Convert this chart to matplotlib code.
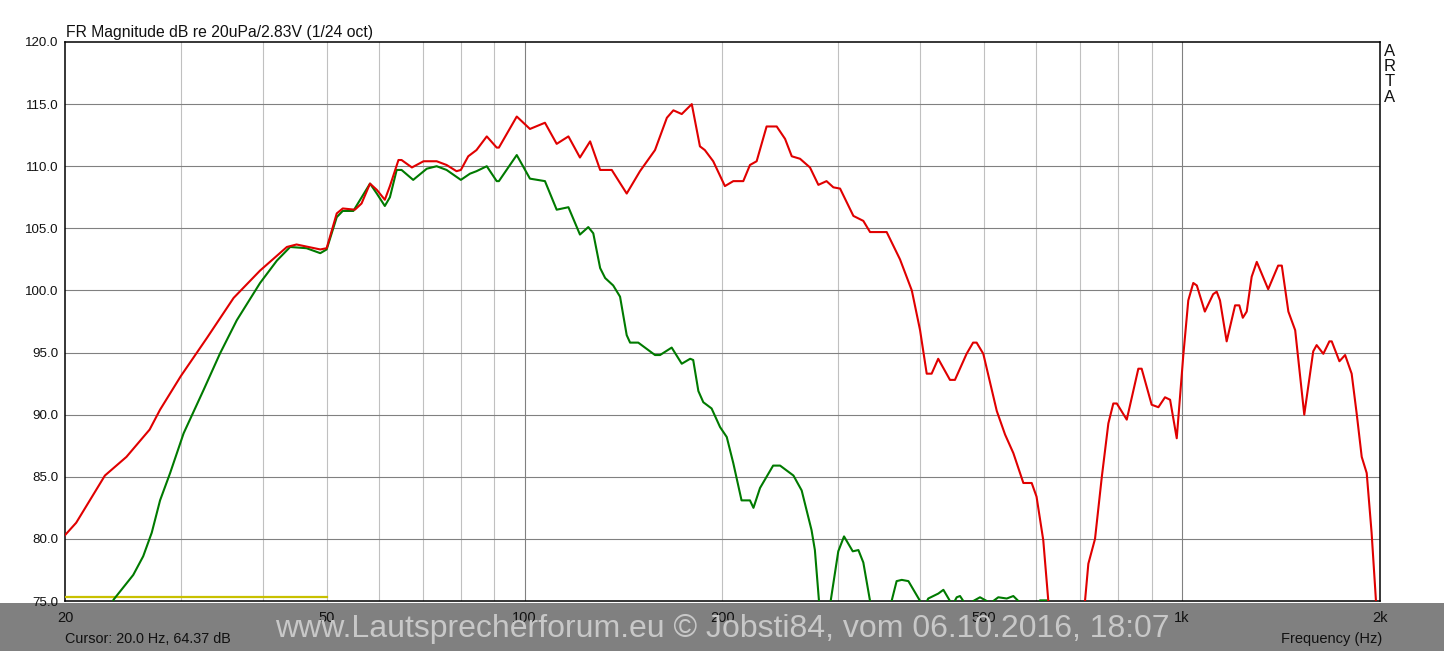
import matplotlib.pyplot as plt
from matplotlib.patches import Rectangle
from matplotlib.ticker import FixedLocator, NullFormatter

plt.rcParams['font.family'] = ['Liberation Sans', 'DejaVu Sans']

# ── data ─────────────────────────────────────────────────────────────────────
red_f = [20.0, 20.8, 23.0, 24.8, 26.9, 27.9, 30.0, 32.9, 36.1, 39.6, 43.5, 45.0,
         48.9, 50.0, 51.8, 52.9, 55.2, 56.5, 58.2, 59.6, 61.3, 62.4, 64.3, 65.0,
         67.4, 70.2, 73.5, 76.1, 78.8, 80.0, 82.1, 84.5, 87.6, 90.7, 91.4, 97.3,
         101.9, 107.4, 111.9, 116.6, 121.4, 125.8, 130.3, 135.7, 143.0, 149.8,
         157.9, 164.6, 168.4, 173.4, 179.6, 184.8, 188.0, 193.6, 201.7, 207.7,
         215.1, 220.2, 225.4, 233.4, 241.8, 249.0, 254.9, 262.4, 271.7, 279.8,
         287.9, 294.9, 301.9, 316.3, 327.5, 335.3, 355.4, 372.4, 388.1, 399.5,
         408.9, 416.0, 425.7, 443.6, 451.4, 470.2, 481.0, 487.0, 498.5, 522.6,
         538.0, 553.9, 573.6, 590.6, 600.7, 615.0, 626.0, 640.0, 700.0, 711.8,
         720.2, 737.2, 755.0, 772.5, 786.0, 795.7, 823.9, 858.0, 868.0, 899.0,
         920.4, 942.0, 958.9, 981.5, 1004, 1022, 1040, 1053, 1083, 1115, 1129,
         1142, 1169, 1204, 1222, 1237, 1254, 1276, 1299, 1352, 1400, 1418, 1451,
         1486, 1534, 1583, 1602, 1640, 1675, 1689, 1735, 1770, 1811, 1843, 1876,
         1909, 1942, 1972, 1990]
red_db = [80.3, 81.3, 85.1, 86.6, 88.8, 90.4, 93.1, 96.2, 99.4, 101.6, 103.5, 103.7,
          103.3, 103.4, 106.2, 106.6, 106.5, 107.0, 108.6, 108.1, 107.3, 108.4, 110.5, 110.5,
          109.9, 110.4, 110.4, 110.1, 109.6, 109.7, 110.8, 111.3, 112.4, 111.5, 111.5, 114.0,
          113.0, 113.5, 111.8, 112.4, 110.7, 112.0, 109.7, 109.7, 107.8, 109.6,
          111.3, 113.9, 114.5, 114.2, 115.0, 111.6, 111.3, 110.4, 108.4, 108.8,
          108.8, 110.1, 110.4, 113.2, 113.2, 112.2, 110.8, 110.6, 109.9, 108.5,
          108.8, 108.3, 108.2, 106.0, 105.6, 104.7, 104.7, 102.5, 100.0, 96.8,
          93.3, 93.3, 94.5, 92.8, 92.8, 94.9, 95.8, 95.8, 94.9, 90.3,
          88.4, 86.9, 84.5, 84.5, 83.4, 79.9, 75.0, 68.0, 68.0, 75.0,
          78.0, 80.0, 85.0, 89.3, 90.9, 90.9, 89.6, 93.7, 93.7, 90.8,
          90.6, 91.4, 91.2, 88.1, 94.7, 99.2, 100.6, 100.4, 98.3, 99.7, 99.9,
          99.2, 95.9, 98.8, 98.8, 97.8, 98.3, 101.1, 102.3, 100.1, 102.0, 102.0, 98.3,
          96.8, 90.0, 95.1, 95.6, 94.9, 95.9, 95.9, 94.3, 94.8, 93.3, 90.1, 86.6,
          85.3, 80.5, 75.0, 68.0]

green_f = [23.3, 23.7, 25.4, 26.3, 27.1, 27.9, 28.9, 30.3, 32.5, 34.4, 36.5, 39.6,
           42.0, 44.0, 46.6, 48.9, 50.0, 51.8, 52.9, 54.9, 58.2, 59.6, 61.3, 62.4,
           63.9, 65.0, 67.7, 71.0, 73.5, 76.1, 80.0, 82.6, 84.5, 87.6, 90.7, 91.4,
           97.3, 101.9, 107.4, 111.9, 116.6, 121.4, 125.0, 127.2, 130.3, 132.6, 136.4,
           139.7, 143.0, 144.7, 148.9, 157.9, 160.7, 167.4, 173.4, 178.6, 180.5,
           183.8, 187.0, 192.5, 198.3, 203.0, 207.7, 213.8, 220.2, 222.9, 228.1,
           238.8, 244.7, 256.4, 263.9, 273.2, 276.4, 280.4, 285.0, 289.0, 292.1,
           300.0, 306.1, 315.6, 321.9, 327.5, 335.3, 342.0, 354.0, 361.6, 368.0,
           374.7, 383.5, 399.5, 405.0, 411.1, 425.9, 433.5, 443.6, 449.0, 454.2,
           459.5, 464.8, 472.0, 481.4, 492.8, 504.5, 510.0, 516.3, 525.4, 541.2,
           553.8, 563.6, 570.0, 600.0, 608.0, 623.0, 628.0]
green_db = [73.5, 75.1, 77.1, 78.6, 80.5, 83.1, 85.3, 88.5, 92.0, 94.9, 97.6, 100.6,
            102.4, 103.5, 103.4, 103.0, 103.3, 105.9, 106.4, 106.4, 108.6, 107.8, 106.8, 107.5,
            109.7, 109.7, 108.9, 109.8, 110.0, 109.7, 108.9, 109.4, 109.6, 110.0, 108.8, 108.8,
            110.9, 109.0, 108.8, 106.5, 106.7, 104.5, 105.1, 104.6, 101.8, 101.0, 100.4,
            99.5, 96.4, 95.8, 95.8, 94.8, 94.8, 95.4, 94.1, 94.5, 94.4,
            91.9, 91.0, 90.5, 89.0, 88.2, 86.1, 83.1, 83.1, 82.5, 84.1,
            85.9, 85.9, 85.1, 83.9, 80.7, 79.1, 75.0, 70.0, 70.0, 75.0,
            79.0, 80.2, 79.0, 79.1, 78.1, 75.0, 72.0, 72.0, 75.0, 76.6,
            76.7, 76.6, 75.0, 74.5, 75.2, 75.6, 75.9, 75.0, 74.8, 75.3,
            75.4, 75.0, 74.5, 75.0, 75.3, 75.0, 74.6, 75.0, 75.3, 75.2,
            75.4, 75.0, 74.0, 74.0, 75.05, 75.05, 74.0]

yellow_f = [20, 50]
yellow_db = [75.35, 75.35]

y_ticks = [75, 80, 85, 90, 95, 100, 105, 110, 115, 120]
x_major = [100, 1000]
x_minor = [30, 40, 50, 60, 70, 80, 90, 200, 300, 400, 500, 600, 700, 800, 900]
x_labels = {20: '20', 50: '50', 100: '100', 200: '200', 500: '500', 1000: '1k', 2000: '2k'}

# ── figure ───────────────────────────────────────────────────────────────────
W, H = 1444, 651
fig = plt.figure(figsize=(W / 100, H / 100), dpi=100)
ax = fig.add_axes([65 / W, 1 - 601 / H, (1380 - 65) / W, (601 - 42) / H])

# grey status band at the bottom
fig.patches.append(Rectangle((0, 0), 1, 48 / H, transform=fig.transFigure,
                             facecolor='#808080', edgecolor='none', zorder=-1))

ax.set_xscale('log')
ax.set_xlim(20, 2000)
ax.set_ylim(75, 120)

for f in x_minor:
    ax.axvline(f, color='#c0c0c0', lw=0.8, zorder=1)
for f in x_major:
    ax.axvline(f, color='#808080', lw=0.8, zorder=1)
for v in y_ticks[1:-1]:
    ax.axhline(v, color='#808080', lw=0.8, zorder=1)

ax.plot(yellow_f, yellow_db, color='#c8c000', lw=1.6, zorder=3)
ax.plot(green_f, green_db, color='#007a00', lw=1.5, zorder=4)
ax.plot(red_f, red_db, color='#e00000', lw=1.5, zorder=5)

ax.yaxis.set_major_locator(FixedLocator(y_ticks))
ax.set_yticklabels([f'{v:.1f}' for v in y_ticks])
ax.xaxis.set_major_locator(FixedLocator(list(x_labels)))
ax.set_xticklabels(list(x_labels.values()))
ax.xaxis.set_minor_formatter(NullFormatter())
ax.tick_params(axis='both', which='both', length=0, labelsize=9.6, colors='#111111')
ax.tick_params(axis='y', pad=4.5)
ax.tick_params(axis='x', pad=7.5)
for lab in ax.get_xticklabels():
    lab.set_family(['Liberation Sans Narrow', 'Liberation Sans'])
    lab.set_fontsize(10.5)

for s in ax.spines.values():
    s.set_color('black')
    s.set_linewidth(1.1)

fig.text(66 / W, 1 - 37 / H, 'FR Magnitude dB re 20uPa/2.83V (1/24 oct)',
         fontsize=11.3, va='baseline', ha='left', color='#111111')

for i, ch in enumerate('ARTA'):
    fig.text(1390 / W, 1 - (51 + 15.5 * i) / H, ch, fontsize=12,
             ha='center', va='center', color='#111111')

fig.text(65 / W, 1 - 639 / H, 'Cursor: 20.0 Hz, 64.37 dB', fontsize=10.4,
         ha='left', va='center', color='#111111')
fig.text(1382 / W, 1 - 639 / H, 'Frequency (Hz)', fontsize=10.5,
         family=['Liberation Sans Narrow', 'Liberation Sans'],
         ha='right', va='center', color='#111111')

wm = fig.text(722 / W, 1 - 629 / H,
              'www.Lautsprecherforum.eu \u00a9 Jobsti84, vom 06.10.2016, 18:07',
              fontsize=22, ha='center', va='center', color='#c8c8c8')
# size the watermark to the width it has in the screenshot
r = fig.canvas.get_renderer()
w = wm.get_window_extent(r).width
wm.set_fontsize(22 * 895 / w)

fig.savefig('out.png', dpi=100)
